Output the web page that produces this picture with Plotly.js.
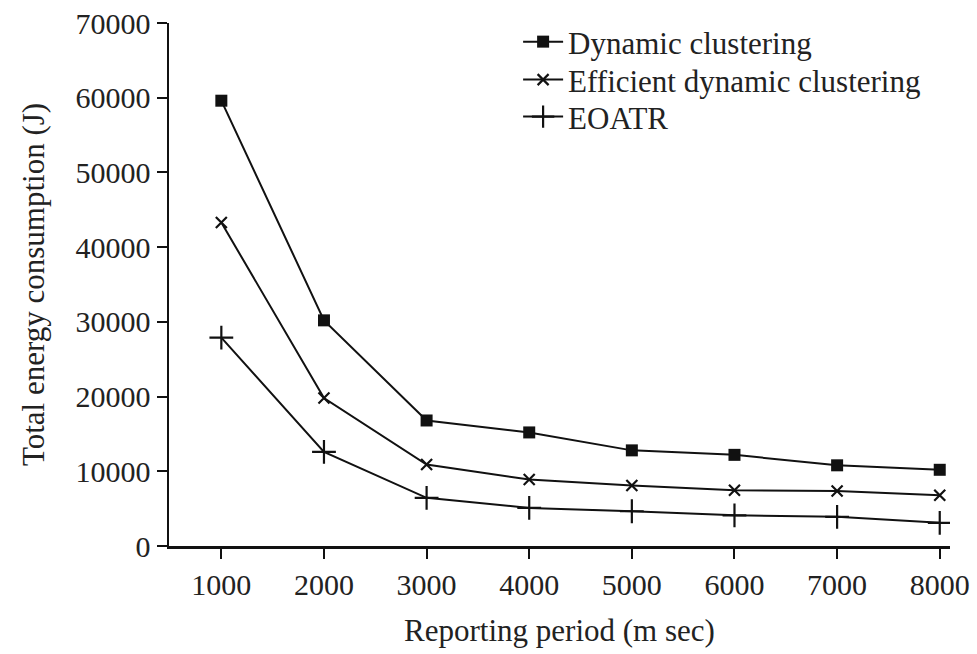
<!DOCTYPE html>
<html>
<head>
<meta charset="utf-8">
<script src="https://cdn.plot.ly/plotly-3.0.1.min.js"></script>
<style>html,body{margin:0;padding:0;background:#fff;}#chart{width:977px;height:654px;}</style>
</head>
<body>
<div id="chart"></div>
<script>
const periods = [1000, 2000, 3000, 4000, 5000, 6000, 7000, 8000];
const dynamicClustering = [59600, 30200, 16800, 15200, 12800, 12200, 10800, 10200];
const efficientDynamicClustering = [43300, 19800, 10900, 8900, 8100, 7450, 7350, 6800];
const eoatr = [27900, 12600, 6450, 5100, 4650, 4100, 3900, 3100];
const seriesNames = ["Dynamic clustering", "Efficient dynamic clustering", "EOATR"];
const yTicks = [0, 10000, 20000, 30000, 40000, 50000, 60000, 70000];

const ink = "#111";
const font = "Liberation Serif, Times New Roman, serif";

function tr(name, y, symbol, size, mline, legendId) {
  return {
    x: periods, y: y, name: name, type: "scatter", mode: "lines+markers",
    legend: legendId,
    line: {color: ink, width: 2},
    marker: {symbol: symbol, size: size, color: ink, line: {color: ink, width: mline}}
  };
}

const data = [
  tr(seriesNames[0], dynamicClustering, "square", 12, 0, "legend"),
  tr(seriesNames[1], efficientDynamicClustering, "x-thin", 11, 2.2, "legend2"),
  tr(seriesNames[2], eoatr, "cross-thin", 17, 2.2, "legend3")
];

function leg(yc) {
  return {
    x: 0.447, y: yc, xanchor: "left", yanchor: "middle",
    bgcolor: "rgba(0,0,0,0)", font: {family: font, size: 31, color: "#222"},
    itemwidth: 40
  };
}

const layout = {
  width: 977, height: 654,
  margin: {l: 169, r: 27, t: 23, b: 108, autoexpand: false},
  paper_bgcolor: "#fff", plot_bgcolor: "#fff",
  font: {family: font, size: 30, color: "#222"},
  showlegend: true,
  legend: leg(0.9637),
  legend2: leg(0.8911),
  legend3: leg(0.8204),
  xaxis: {
    range: [490, 8100], tickvals: periods, ticktext: periods.map(String),
    showgrid: false, zeroline: false, showline: true, linecolor: ink, linewidth: 2.5,
    ticks: "outside", ticklen: 10, tickwidth: 2, tickcolor: ink,
    tickfont: {family: font, size: 30, color: "#222"},
    title: {text: "Reporting period (m sec)", font: {family: font, size: 31, color: "#222"}, standoff: 20}
  },
  yaxis: {
    range: [0, 70000], tickvals: yTicks, ticktext: yTicks.map(String),
    showgrid: false, zeroline: false, showline: true, linecolor: ink, linewidth: 2.5,
    ticks: "outside", ticklen: 10, tickwidth: 2, tickcolor: ink,
    tickfont: {family: font, size: 30, color: "#222"},
    title: {text: "Total energy consumption (J)", font: {family: font, size: 31, color: "#222"}, standoff: 22}
  }
};

Plotly.newPlot("chart", data, layout, {displayModeBar: false, staticPlot: true});
</script>
</body>
</html>
